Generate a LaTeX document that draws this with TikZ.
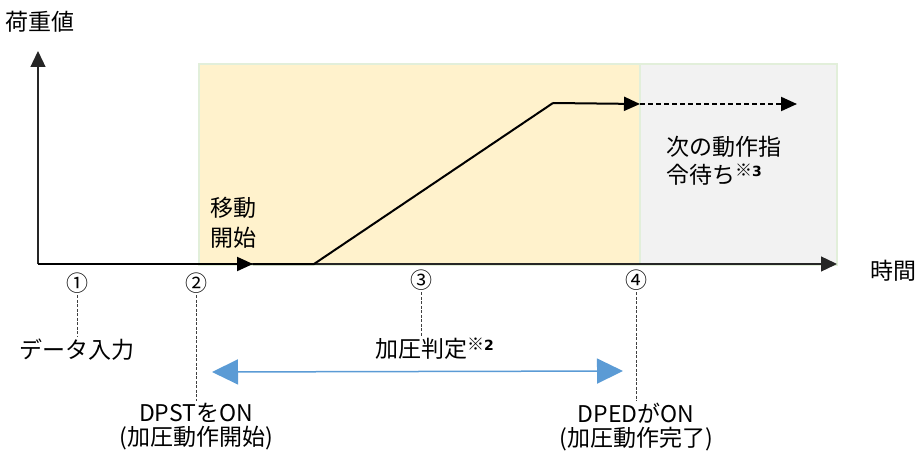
\documentclass[tikz,border=0pt]{standalone}
\usepackage{fontspec}
\setmainfont{Noto Sans CJK JP}
\newfontfamily\numfont{DejaVu Sans}
\usetikzlibrary{arrows.meta}
\definecolor{zoneyellow}{HTML}{FFF2CC}
\definecolor{zonegrey}{HTML}{F2F2F2}
\definecolor{zoneborder}{HTML}{E2EFDA}
\definecolor{arrowblue}{HTML}{5B9BD5}
\newcommand{\notemark}[1]{\rlap{\raisebox{0.3em}{\fontsize{17}{17}\selectfont ※\fontsize{14}{14}\selectfont\numfont\bfseries #1}}}
\tikzset{
  zone/.style={draw=zoneborder, line width=1.5pt},
  axisline/.style={line width=1.3pt, draw=black!85, -{Triangle[length=16pt,width=15pt]}},
  trace/.style={line width=2pt, draw=black},
  tracearrow/.style={trace, -{Triangle[length=16pt,width=14pt]}},
  guide/.style={line width=0.8pt, draw=black!75, dash pattern=on 3pt off 1.5pt},
  spanarrow/.style={line width=1.5pt, draw=arrowblue,
    {Triangle[length=26pt,width=25pt,fill=arrowblue]}-{Triangle[length=26pt,width=25pt,fill=arrowblue]}},
  lbl/.style={inner sep=2pt},
  numlbl/.style={inner sep=2pt, font=\fontsize{22}{24}\selectfont}
}
\begin{document}
\begin{tikzpicture}[x=1pt,y=-1pt,font=\fontsize{23}{28}\selectfont]
\useasboundingbox (0,0) rectangle (915,457);
% zones
\draw[zone, fill=zoneyellow] (199,64) rectangle (640,265);
\draw[zone, fill=zonegrey] (640,64) rectangle (837,265);
% axes
\coordinate (O) at (38,264);
\coordinate (ytip) at (38,51);
\coordinate (xtip) at (837,264);
\draw[axisline] (O) -- (ytip);
\draw[axisline] (O) -- (xtip);
\node[lbl] (ylab) at (40,22) {荷重値};
\node[lbl] (xlab) at (893,271) {時間};
% trace
\coordinate (mv) at (253,264);
\coordinate (k1) at (314,264);
\coordinate (k2) at (553,103);
\coordinate (e) at (640,104);
\coordinate (d) at (797,104);
\draw[tracearrow] (O) -- (mv);
\draw[trace] (mv) -- (k1) -- (k2);
\draw[tracearrow] (k2) -- (e);
\draw[tracearrow, dash pattern=on 5pt off 3pt] (e) -- (d);
% zone texts
\node[lbl, anchor=west, align=left, font=\fontsize{23}{30}\selectfont] (move) at (208,223) {移動\\開始};
\node[lbl, anchor=west, align=left, font=\fontsize{23}{28}\selectfont] (wait) at (664,161) {次の動作指\\令待ち\notemark{3}};
% step numbers
\node[numlbl] (c1) at (77,283) {①};
\node[numlbl] (c2) at (196,283) {②};
\node[numlbl] (c3) at (421,280) {③};
\node[numlbl] (c4) at (636,280) {④};
% step texts
\node[lbl] (t1) at (77,350) {データ入力};
\node[lbl] (t3) at (421,349) {加圧判定\notemark{2}};
\node[lbl, align=center, font=\fontsize{23}{24}\selectfont] (t2) at (196,427) {DPSTをON\\(加圧動作開始)};
\node[lbl, align=center, font=\fontsize{23}{24}\selectfont] (t4) at (636,427) {DPEDがON\\(加圧動作完了)};
\draw[guide] (c1.south) -- (t1.north);
\draw[guide] (c2.south) -- (t2.north);
\draw[guide] (c3.south) -- (t3.north);
\draw[guide] (c4.south) -- (t4.north);
% span arrow
\coordinate (sa) at (212,372);
\coordinate (sb) at (623,371);
\draw[spanarrow] (sa) -- (sb);
\end{tikzpicture}
\end{document}
